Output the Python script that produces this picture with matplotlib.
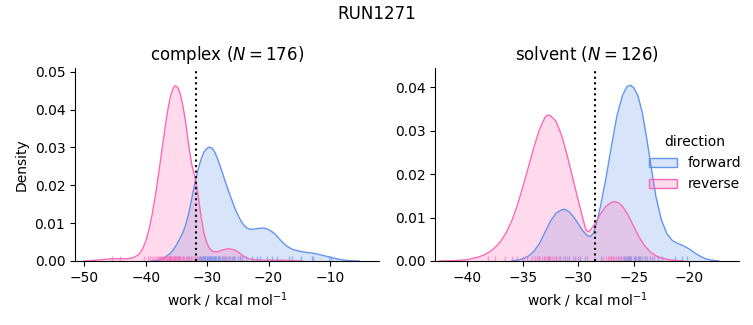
import matplotlib
matplotlib.use("Agg")
import matplotlib.pyplot as plt
from matplotlib.patches import Patch

# density curves (work in kcal/mol, density)
complex_fwd_x = [-39.0, -38.0, -37.0, -36.0, -35.5, -35.0, -34.5, -34.0, -33.5, -33.0, -32.5, -32.0,
                 -31.5, -31.0, -30.5, -30.0, -29.6, -29.2, -28.8, -28.4, -28.0, -27.5, -27.0, -26.5,
                 -26.0, -25.5, -25.0, -24.5, -24.0, -23.5, -23.0, -22.5, -22.0, -21.5, -21.0, -20.5,
                 -20.0, -19.5, -19.0, -18.5, -18.0, -17.5, -17.0, -16.5, -16.0, -15.0, -14.0, -13.0,
                 -12.0, -11.0, -10.0, -9.0, -8.0, -7.0, -5.3]
complex_fwd_y = [0.0, 0.0002, 0.0008, 0.0020, 0.0030, 0.0042, 0.0057, 0.0073, 0.0095, 0.0125, 0.0165, 0.0205,
                 0.0240, 0.0268, 0.0288, 0.0298, 0.0301, 0.0298, 0.0289, 0.0274, 0.0256, 0.0232, 0.0208, 0.0184,
                 0.0162, 0.0140, 0.0122, 0.0106, 0.0094, 0.0087, 0.0084, 0.0084, 0.0085, 0.0086, 0.0087, 0.0086,
                 0.0083, 0.0078, 0.0072, 0.0063, 0.0054, 0.0046, 0.0039, 0.0034, 0.0030, 0.0026, 0.0023, 0.0021,
                 0.0018, 0.0014, 0.0010, 0.0006, 0.0003, 0.0001, 0.0]
complex_rev_x = [-50.0, -49.0, -48.0, -47.0, -46.0, -45.0, -44.0, -43.0, -42.5, -42.0, -41.5, -41.0,
                 -40.5, -40.0, -39.5, -39.0, -38.5, -38.0, -37.5, -37.0, -36.5, -36.0, -35.5, -35.2,
                 -34.8, -34.4, -34.0, -33.5, -33.0, -32.5, -32.0, -31.5, -31.0, -30.5, -30.0, -29.5,
                 -29.0, -28.5, -28.0, -27.5, -27.0, -26.5, -26.0, -25.5, -25.0, -24.5, -24.0, -23.5,
                 -23.0, -22.0, -20.0, -18.0, -16.0, -14.5]
complex_rev_y = [0.0, 0.0001, 0.0002, 0.0004, 0.0005, 0.0006, 0.0006, 0.0006, 0.0007, 0.0009, 0.0013, 0.0019,
                 0.0032, 0.0052, 0.0080, 0.0118, 0.0165, 0.0218, 0.0276, 0.0335, 0.0390, 0.0433, 0.0458, 0.0463,
                 0.0459, 0.0443, 0.0415, 0.0367, 0.0305, 0.0255, 0.0222, 0.0178, 0.0118, 0.0072, 0.0045, 0.0031,
                 0.0025, 0.0024, 0.0026, 0.0029, 0.0031, 0.0032, 0.0031, 0.0029, 0.0024, 0.0018, 0.0012, 0.0008,
                 0.0005, 0.0003, 0.0002, 0.0002, 0.0001, 0.0]

solvent_fwd_x = [-36.0, -35.5, -35.0, -34.5, -34.0, -33.5, -33.0, -32.5, -32.0, -31.5, -31.2, -30.8,
                 -30.4, -30.0, -29.6, -29.2, -28.9, -28.6, -28.3, -28.0, -27.5, -27.0, -26.5, -26.0,
                 -25.6, -25.3, -25.0, -24.6, -24.2, -23.8, -23.4, -23.0, -22.5, -22.0, -21.5, -21.0,
                 -20.5, -20.0, -19.5, -19.0, -18.5, -18.0, -17.3]
solvent_fwd_y = [0.0, 0.0002, 0.0005, 0.0011, 0.0022, 0.0040, 0.0066, 0.0092, 0.0110, 0.0118, 0.0119, 0.0113,
                 0.0101, 0.0086, 0.0070, 0.0059, 0.0056, 0.0065, 0.0092, 0.0125, 0.0190, 0.0265, 0.0335, 0.0382,
                 0.0402, 0.0405, 0.0400, 0.0380, 0.0340, 0.0280, 0.0214, 0.0150, 0.0095, 0.0063, 0.0047, 0.0040,
                 0.0035, 0.0028, 0.0019, 0.0011, 0.0005, 0.0002, 0.0]
solvent_rev_x = [-42.5, -41.0, -40.0, -39.5, -39.0, -38.5, -38.0, -37.5, -37.0, -36.5, -36.0, -35.5,
                 -35.0, -34.5, -34.0, -33.5, -33.0, -32.8, -32.5, -32.0, -31.5, -31.0, -30.5, -30.0,
                 -29.7, -29.5, -29.3, -29.1, -28.9, -28.5, -28.0, -27.5, -27.0, -26.7, -26.3, -26.0,
                 -25.5, -25.0, -24.5, -24.0, -23.5, -23.0, -22.5, -22.0, -21.5, -20.5]
solvent_rev_y = [0.0, 0.0001, 0.0003, 0.0006, 0.0009, 0.0014, 0.0021, 0.0031, 0.0045, 0.0065, 0.0092, 0.0128,
                 0.0170, 0.0216, 0.0262, 0.0303, 0.0331, 0.0336, 0.0335, 0.0322, 0.0290, 0.0244, 0.0192, 0.0140,
                 0.0110, 0.0090, 0.0072, 0.0067, 0.0071, 0.0085, 0.0108, 0.0126, 0.0135, 0.0137, 0.0133, 0.0126,
                 0.0106, 0.0080, 0.0055, 0.0035, 0.0021, 0.0012, 0.0007, 0.0004, 0.0002, 0.0]

# rug positions (individual work values)
complex_fwd_rug = [-36.0, -34.8, -33.9, -33.1, -32.6, -31.6, -31.4, -31.2, -31.0, -30.9, -30.7, -30.5,
                   -30.4, -30.3, -30.1, -30.0, -29.9, -29.7, -29.6, -29.5, -29.3, -29.2, -29.1, -28.9,
                   -28.8, -28.7, -28.5, -28.3, -28.2, -28.1, -27.9, -27.6, -27.4, -27.1, -26.9, -26.6,
                   -26.3, -26.0, -25.7, -25.4, -25.0, -24.7, -24.3, -23.6, -22.7, -21.9, -21.4, -20.2,
                   -19.4, -18.6, -16.7, -16.2, -14.8, -12.9, -12.7, -10.2, -9.9]
complex_rev_rug = [-45.5, -44.1, -40.2, -39.7, -39.3, -38.9, -38.6, -38.3, -38.0, -37.8, -37.7, -37.5,
                   -37.3, -37.2, -37.0, -36.9, -36.8, -36.6, -36.5, -36.4, -36.2, -36.1, -36.0, -35.9,
                   -35.8, -35.6, -35.5, -35.4, -35.3, -35.2, -35.0, -34.9, -34.8, -34.6, -34.5, -34.4,
                   -34.2, -34.0, -33.8, -33.5, -33.2, -32.9, -32.6, -32.3, -32.0, -31.7, -31.2, -30.5,
                   -29.6, -28.0, -27.2, -26.5, -25.8, -24.6]
solvent_fwd_rug = [-33.5, -32.6, -32.0, -31.6, -31.2, -30.8, -30.3, -29.8, -29.4, -27.9, -27.0, -26.4,
                   -26.1, -25.9, -25.8, -25.6, -25.5, -25.4, -25.3, -25.2, -25.0, -24.9, -24.8, -24.6,
                   -24.5, -24.4, -24.2, -24.0, -23.8, -23.5, -23.2, -22.8, -22.4, -21.3, -20.6, -20.2]
solvent_rev_rug = [-38.1, -37.5, -36.6, -36.0, -35.5, -35.0, -34.6, -34.2, -33.9, -33.7, -33.5, -33.3,
                   -33.1, -33.0, -32.8, -32.7, -32.5, -32.4, -32.2, -32.0, -31.7, -31.4, -31.0, -30.5,
                   -30.0, -29.2, -27.8, -27.5, -27.3, -27.2, -27.0, -26.9, -26.8, -26.6, -26.4, -26.2,
                   -26.0, -25.7, -25.4, -25.0, -24.5, -24.0, -23.3]

# free energy estimates (dotted lines)
dg_complex = -31.8
dg_solvent = -28.5

panels = [
    ("complex", 176, complex_fwd_x, complex_fwd_y, complex_rev_x, complex_rev_y,
     complex_fwd_rug, complex_rev_rug, dg_complex, (-51.5, -2.0), (0, 0.051), [-50, -40, -30, -20, -10]),
    ("solvent", 126, solvent_fwd_x, solvent_fwd_y, solvent_rev_x, solvent_rev_y,
     solvent_fwd_rug, solvent_rev_rug, dg_solvent, (-42.9, -15.45), (0, 0.0445), [-40, -35, -30, -25, -20]),
]

blue = "#6495ED"
pink = "#FF69B4"

fig = plt.figure(figsize=(7.53, 3.25), dpi=100)
ax1 = fig.add_axes([0.0996, 0.197, 0.404, 0.594])
ax2 = fig.add_axes([0.578, 0.197, 0.404, 0.594])

for ax, p in zip([ax1, ax2], panels):
    name, n, fx, fy, rx, ry, frug, rrug, dg, xlim, ylim, xticks = p
    for x, y, c in [(fx, fy, blue), (rx, ry, pink)]:
        ax.fill_between(x, y, color=c, alpha=0.25, lw=0)
        ax.plot(x, y, color=c, lw=1)
    # rugs
    ax.vlines(frug, 0, 0.025, transform=ax.get_xaxis_transform(), colors=blue, alpha=0.6, lw=1)
    ax.vlines(rrug, 0, 0.025, transform=ax.get_xaxis_transform(), colors=pink, alpha=0.6, lw=1)
    ax.axvline(dg, color="black", ls=":", lw=1.5)
    ax.set_xlim(*xlim)
    ax.set_ylim(*ylim)
    ax.set_xticks(xticks)
    ax.set_title(f"{name} ($N = {n}$)", fontsize=12)
    ax.set_xlabel("work / kcal mol$^{-1}$")
    ax.spines["top"].set_visible(False)
    ax.spines["right"].set_visible(False)

ax1.set_ylabel("Density")
ax1.set_yticks([0, 0.01, 0.02, 0.03, 0.04, 0.05])
ax2.set_yticks([0, 0.01, 0.02, 0.03, 0.04])

handles = [Patch(facecolor=(0.392, 0.584, 0.929, 0.25), edgecolor=blue, label="forward"),
           Patch(facecolor=(1.0, 0.412, 0.706, 0.25), edgecolor=pink, label="reverse")]
fig.legend(handles=handles, title="direction", frameon=False, loc="upper left",
           bbox_to_anchor=(0.845, 0.622))

fig.suptitle("RUN1271", fontsize=12, y=0.985)
fig.savefig("out.png", dpi=100)
